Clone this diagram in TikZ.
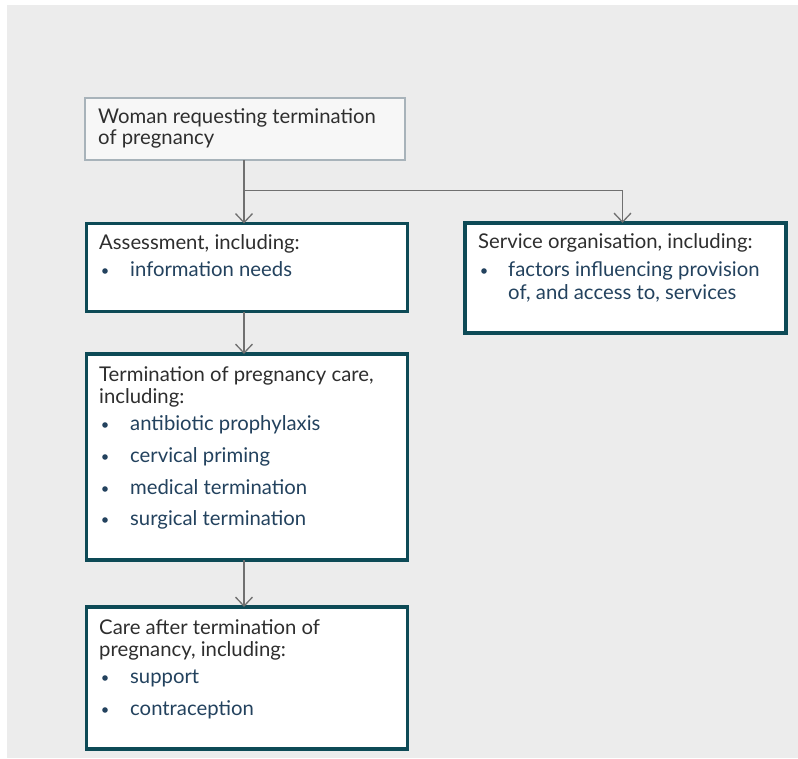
\documentclass[tikz,border=0pt]{standalone}
\usepackage{fontspec}
\setmainfont{Lato}
\usetikzlibrary{arrows.meta}
\definecolor{bgc}{HTML}{ECECEC}
\definecolor{teal}{HTML}{0D4A56}
\definecolor{topfill}{HTML}{F7F7F7}
\definecolor{topline}{HTML}{A8B3BA}
\definecolor{headc}{HTML}{2E2E2E}
\definecolor{itemc}{HTML}{23425E}
\definecolor{conn}{HTML}{707070}
\tikzset{
  boxbase/.style={rectangle, anchor=north west, inner sep=0pt, outer sep=0pt},
  topbox/.style={boxbase, draw=topline, fill=topfill, line width=1.4pt},
  mainbox/.style={boxbase, draw=teal, fill=white, line width=3.4pt},
  head/.style={anchor=base west, inner sep=0pt, text=headc, font=\fontsize{20.3}{22}\selectfont},
  item/.style={anchor=base west, inner sep=0pt, text=itemc, font=\fontsize{20.3}{22}\selectfont},
  dot/.style={circle, fill=itemc, inner sep=0pt, minimum size=5.6pt},
  link/.style={draw=conn, line width=1.3pt, -{Straight Barb[length=9pt,width=17pt,line width=1.3pt]}},
  plain/.style={draw=conn, line width=1.3pt}
}
\begin{document}
\begin{tikzpicture}[x=1pt,y=-1pt]
\useasboundingbox (0,0) rectangle (798,758);
\fill[bgc] (7,5) rectangle (798,758);
% boxes
\node[topbox, minimum width=320pt, minimum height=62pt] (top) at (85,98) {};
\node[mainbox, minimum width=321pt, minimum height=88pt] (assess) at (86.5,223.5) {};
\node[mainbox, minimum width=321pt, minimum height=110pt] (serv) at (465,223) {};
\node[mainbox, minimum width=321pt, minimum height=206pt] (term) at (86.5,354) {};
\node[mainbox, minimum width=321pt, minimum height=142pt] (care) at (86.5,607) {};
% texts
\node[head] (t1) at (98,123) {Woman requesting termination};
\node[head] (t2) at (98,144) {of pregnancy};
\node[head] (a1) at (99,249) {Assessment, including:};
\node[dot] (ad1) at (105,271) {};
\node[item] (a2) at (130,276) {information needs};
\node[head] (s1) at (478,248) {Service organisation, including:};
\node[dot] (sd1) at (484,271) {};
\node[item] (s2) at (508,276) {factors influencing provision};
\node[item] (s3) at (508,299) {of, and access to, services};
\node[head] (m1) at (99,381) {Termination of pregnancy care,};
\node[head] (m2) at (99,403) {including:};
\node[dot] (md1) at (105,425) {};
\node[item] (m3) at (130,430) {antibiotic prophylaxis};
\node[dot] (md2) at (105,457) {};
\node[item] (m4) at (130,462) {cervical priming};
\node[dot] (md3) at (105,489) {};
\node[item] (m5) at (130,494) {medical termination};
\node[dot] (md4) at (105,520) {};
\node[item] (m6) at (130,525) {surgical termination};
\node[head] (c1) at (99,634) {Care after termination of};
\node[head] (c2) at (99,656) {pregnancy, including:};
\node[dot] (cd1) at (105,678) {};
\node[item] (c3) at (130,683) {support};
\node[dot] (cd2) at (105,710) {};
\node[item] (c4) at (130,715) {contraception};
% connectors
\coordinate (br) at (244,190.5);
\coordinate (brr) at (622.5,190.5);
\draw[link] (top.south -| br) -- (assess.north -| br);
\draw[plain] (br) -- (brr);
\draw[link] (brr) -- (serv.north -| brr);
\draw[link] (assess.south -| br) -- (term.north -| br);
\draw[link] (term.south -| br) -- (care.north -| br);
\end{tikzpicture}
\end{document}
